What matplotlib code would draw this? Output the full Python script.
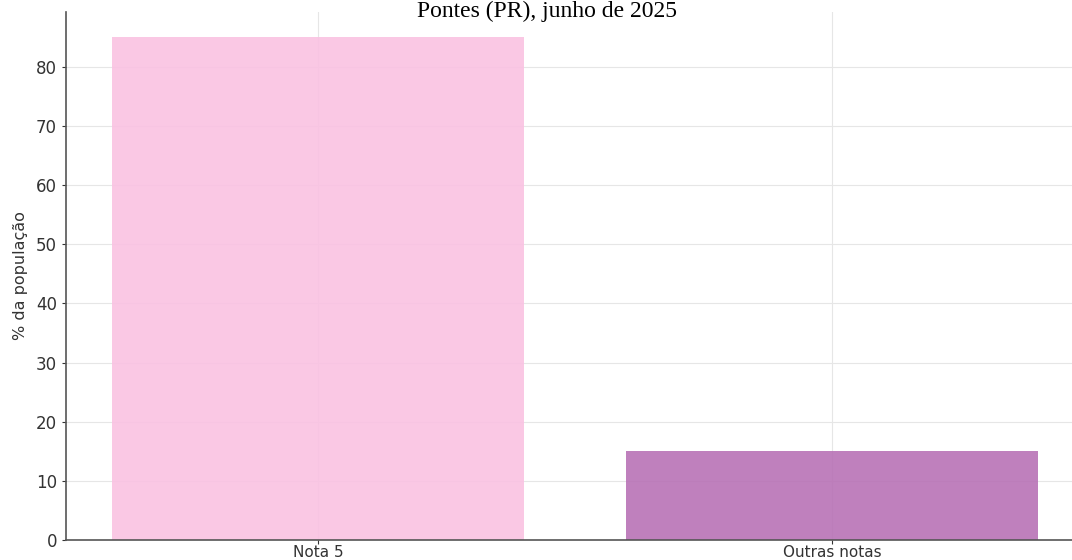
import matplotlib.pyplot as plt

# Share of population by grade
categorias = ["Nota 5", "Outras notas"]
percentuais = [85, 15]
cores = ["#fac2e2", "#b872b6"]

titulo = "Pontes (PR), junho de 2025"
rotulo_y = "% da população"

fig = plt.figure(figsize=(10.72, 5.6), dpi=100)
# axes run a bit past the right edge of the canvas
ax = fig.add_axes([66 / 1072, 20 / 560, (1084 - 66) / 1072, (540 - 12) / 560])

ax.bar(categorias, percentuais, color=cores, width=0.8, alpha=0.9, zorder=2)
ax.grid(True, color="#e6e6e6", linewidth=0.8, zorder=0)
ax.set_axisbelow(True)

for lado in ["top", "right"]:
    ax.spines[lado].set_visible(False)
for lado in ["left", "bottom"]:
    ax.spines[lado].set_color("#555555")
    ax.spines[lado].set_linewidth(1.2)

ax.tick_params(colors="#333333", labelsize=12, length=3)
ax.tick_params(axis="x", labelsize=11, pad=0.5)
ax.set_ylabel(rotulo_y, fontsize=11.5, color="#333333")
ax.yaxis.set_label_coords(-0.037, 0.5)

fig.text(547 / 1072, 1 - 17 / 560, titulo, ha="center", va="baseline",
         fontsize=17, family="Liberation Serif")

fig.savefig("out.png", dpi=100)
